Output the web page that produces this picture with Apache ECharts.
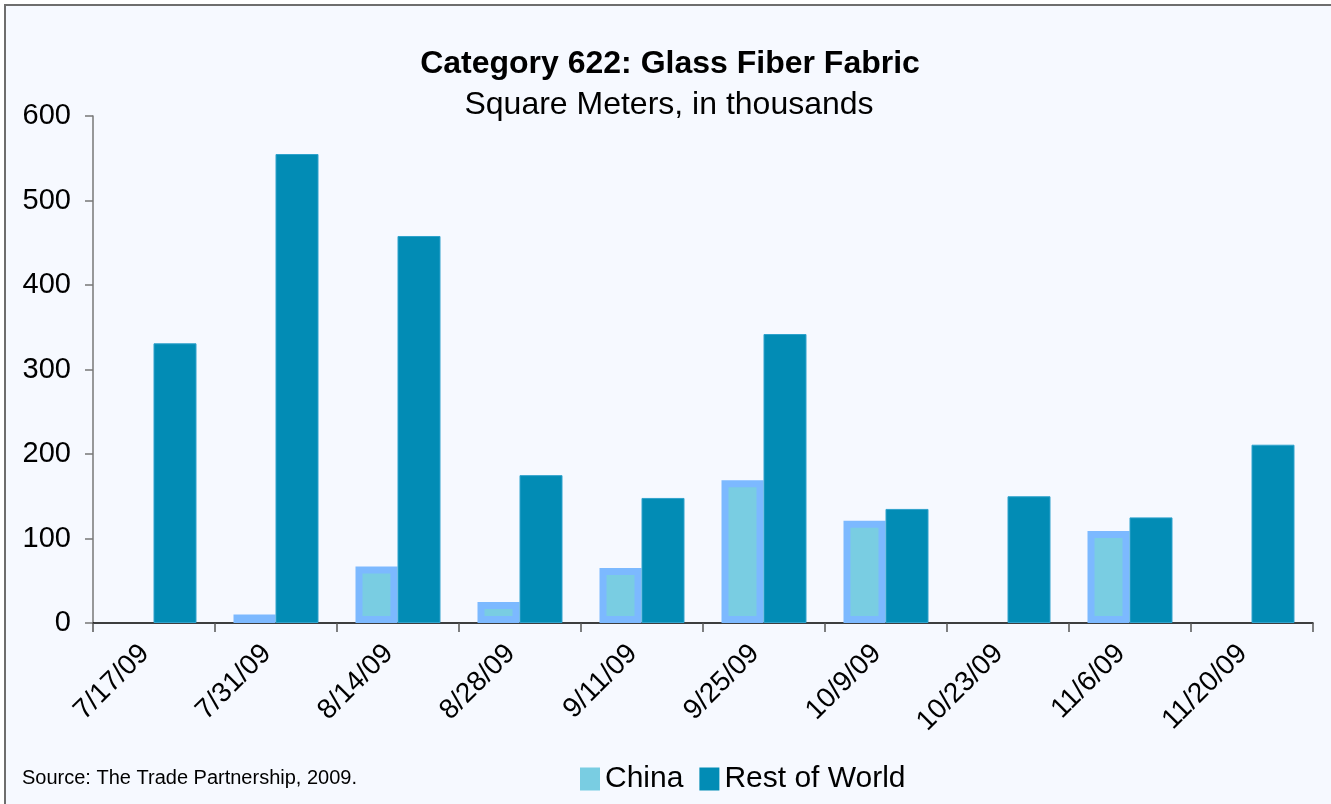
<!DOCTYPE html>
<html>
<head>
<meta charset="utf-8">
<script src="https://cdn.jsdelivr.net/npm/echarts@6/dist/echarts.min.js"></script>
<style>
html,body{margin:0;padding:0;background:#ffffff;}
#chart{width:1331px;height:804px;}
</style>
</head>
<body>
<div id="chart"></div>
<script>
const categories = ['7/17/09','7/31/09','8/14/09','8/28/09','9/11/09','9/25/09','10/9/09','10/23/09','11/6/09','11/20/09'];
const china = [0, 10, 67, 25, 65, 169, 121, 0, 109, 0];
const restOfWorld = [331, 555, 458, 175, 148, 342, 135, 150, 125, 211];
const yTicks = [0, 100, 200, 300, 400, 500, 600];

const FONT = '"Liberation Sans", Arial, sans-serif';
const chart = echarts.init(document.getElementById('chart'), null, {renderer:'canvas'});
chart.setOption({
  backgroundColor: 'transparent',
  animation: false,
  graphic: [{
    type: 'rect', z: -10, silent: true,
    shape: {x: 5, y: 5, width: 1400, height: 900},
    style: {fill: '#F6F9FF', stroke: '#6E6E6E', lineWidth: 2}
  }],
  title: [{
    text: 'Category 622: Glass Fiber Fabric',
    left: 665, top: 43, textAlign: 'center',
    textStyle: {fontFamily: FONT, fontSize: 32, fontWeight: 'bold', color: '#000'}
  },{
    text: 'Square Meters, in thousands',
    left: 664, top: 84, textAlign: 'center',
    textStyle: {fontFamily: FONT, fontSize: 32, fontWeight: 'normal', color: '#000'}
  },{
    text: 'Source: The Trade Partnership, 2009.',
    left: 17, top: 763,
    textStyle: {fontFamily: FONT, fontSize: 20, fontWeight: 'normal', color: '#000'}
  }],
  legend: {
    left: 575, top: 759,
    icon: 'rect', itemWidth: 20, itemHeight: 23, itemGap: 16,
    itemStyle: {borderWidth: 0},
    textStyle: {fontFamily: FONT, fontSize: 30, color: '#000', padding: [0,0,0,0]},
    data: ['China', 'Rest of World']
  },
  grid: {left: 93, right: 18, top: 116, bottom: 181, containLabel: false},
  xAxis: {
    type: 'category', data: categories,
    axisLine: {lineStyle: {color: '#000', width: 1.5}},
    axisTick: {show: true, alignWithLabel: false, length: 9, inside: false, lineStyle: {color: '#555', width: 1.5}},
    axisLabel: {rotate: 45, margin: 17, padding: [0, 13, 0, 0], fontFamily: FONT, fontSize: 28, color: '#000', interval: 0}
  },
  yAxis: {
    type: 'value', min: 0, max: 600, interval: 100,
    axisLine: {show: true, lineStyle: {color: '#777', width: 1.5}},
    axisTick: {show: true, length: 8, lineStyle: {color: '#777', width: 1.5}},
    splitLine: {show: false},
    axisLabel: {margin: 22, fontFamily: FONT, fontSize: 29, color: '#000',
      formatter: v => yTicks.includes(v) ? String(v) : ''}
  },
  series: [{
    name: 'China', type: 'bar', data: china.map(v => v === 0 ? '-' : v),
    barWidth: 42, barGap: '0%',
    itemStyle: {color: '#79CDE2', borderColor: '#7CB9FF', borderWidth: 7}
  },{
    name: 'Rest of World', type: 'bar', data: restOfWorld,
    barWidth: 43, barGap: '0%',
    itemStyle: {color: '#028CB5', borderColor: '#2FA2CC', borderWidth: 1}
  }]
});
</script>
</body>
</html>
